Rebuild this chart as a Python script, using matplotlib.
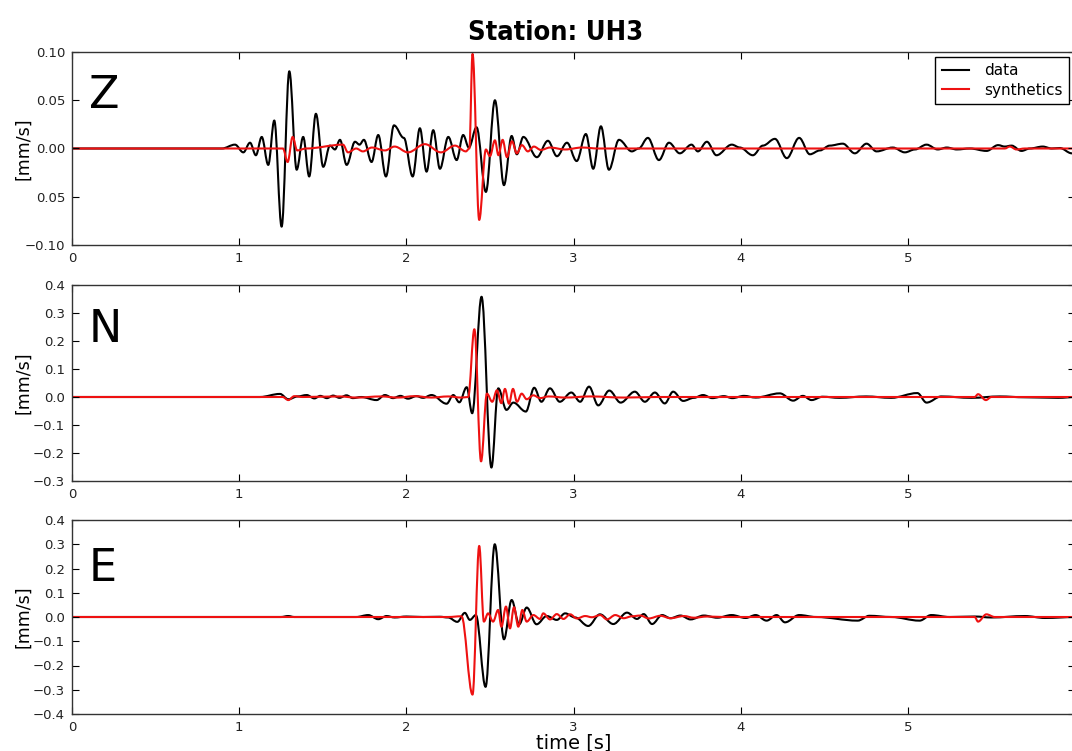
import matplotlib
matplotlib.use("Agg")
import matplotlib.pyplot as plt
from matplotlib import font_manager
from matplotlib.font_manager import FontProperties
from matplotlib.path import Path
from matplotlib.patches import PathPatch
from matplotlib.lines import Line2D

# ---- waveform extrema: time [s], velocity [mm/s] ----
z_data_t = [0.0, 0.897, 0.975, 1.025, 1.065, 1.100, 1.135, 1.174, 1.210, 1.254, 1.300,
            1.344, 1.383, 1.419, 1.459, 1.503, 1.543, 1.573, 1.603, 1.643, 1.693, 1.720,
            1.746, 1.792, 1.832, 1.878, 1.926, 1.985, 2.038, 2.081, 2.121, 2.161, 2.201,
            2.251, 2.301, 2.340, 2.374, 2.420, 2.476, 2.530, 2.584, 2.630, 2.661, 2.700,
            2.781, 2.847, 2.901, 2.961, 3.019, 3.074, 3.118, 3.164, 3.212, 3.272, 3.349,
            3.390, 3.445, 3.511, 3.571, 3.636, 3.706, 3.744, 3.798, 3.855, 3.947, 3.995,
            4.073, 4.133, 4.205, 4.276, 4.350, 4.414, 4.474, 4.533, 4.611, 4.683, 4.753,
            4.813, 4.910, 4.982, 5.042, 5.112, 5.179, 5.233, 5.293, 5.371, 5.471, 5.540,
            5.580, 5.620, 5.680, 5.730, 5.807, 5.861, 5.909, 5.981, 6.005]
z_data_v = [0.0, 0.0, 0.004, -0.004, 0.006, -0.007, 0.012, -0.017, 0.029, -0.081, 0.080,
            -0.022, 0.012, -0.029, 0.036, -0.019, 0.003, -0.001, 0.009, -0.017, 0.007, 0.004,
            0.009, -0.014, 0.014, -0.029, 0.024, 0.011, -0.029, 0.021, -0.024, 0.019, -0.021,
            0.012, -0.012, 0.014, 0.001, 0.022, -0.045, 0.050, -0.038, 0.013, -0.006, 0.012,
            -0.009, 0.008, -0.008, 0.006, -0.013, 0.015, -0.021, 0.023, -0.022, 0.009, -0.003,
            0.0, 0.011, -0.012, 0.006, -0.005, 0.004, -0.003, 0.007, -0.007, 0.004, 0.001,
            -0.007, 0.003, 0.010, -0.010, 0.011, -0.006, -0.002, 0.003, 0.005, -0.005, 0.005,
            -0.003, 0.001, -0.004, -0.001, 0.004, -0.001, 0.001, -0.001, 0.0, -0.0025, 0.0035,
            0.002, 0.003, -0.0025, 0.0, 0.002, 0.0, 0.0005, -0.005, -0.005]

z_syn_t = [0.0, 1.262, 1.290, 1.320, 1.347, 1.400, 1.621, 1.651, 1.700, 1.740, 1.794,
           1.872, 1.930, 2.010, 2.111, 2.207, 2.291, 2.356, 2.377, 2.396, 2.436, 2.476,
           2.500, 2.530, 2.551, 2.576, 2.602, 2.632, 2.661, 2.691, 2.727, 2.763, 2.805,
           2.859, 2.950, 3.050, 3.150, 5.580, 5.610, 5.650, 5.700, 6.005]
z_syn_v = [0.0, 0.0, -0.014, 0.012, -0.002, 0.0, 0.004, -0.004, 0.0, -0.003, 0.001,
           -0.002, 0.002, -0.004, 0.0045, -0.004, 0.003, -0.003, 0.0, 0.098, -0.074, -0.001,
           -0.008, 0.0085, -0.007, 0.009, -0.009, 0.0075, -0.005, 0.0035, -0.003, 0.002, -0.0015,
           0.001, -0.001, 0.001, 0.0, 0.0, 0.002, -0.001, 0.0, 0.0]

n_data_t = [0.0, 1.124, 1.244, 1.294, 1.350, 1.404, 1.450, 1.485, 1.525, 1.562, 1.600,
            1.642, 1.680, 1.730, 1.822, 1.872, 1.920, 1.965, 2.010, 2.060, 2.100, 2.151,
            2.241, 2.281, 2.317, 2.361, 2.394, 2.450, 2.509, 2.550, 2.599, 2.640, 2.715,
            2.765, 2.808, 2.859, 2.918, 2.987, 3.040, 3.093, 3.148, 3.214, 3.282, 3.367,
            3.427, 3.487, 3.546, 3.596, 3.656, 3.720, 3.775, 3.830, 3.900, 3.950, 4.020,
            4.090, 4.234, 4.314, 4.372, 4.424, 4.490, 4.590, 4.750, 4.900, 5.057, 5.112,
            5.200, 5.380, 5.550, 5.700, 5.900, 6.005]
n_data_v = [0.0, 0.0, 0.011, -0.008, 0.002, 0.007, -0.005, 0.004, -0.004, 0.005, -0.003,
            0.006, -0.004, 0.0, -0.011, 0.007, -0.004, 0.004, -0.006, 0.003, -0.003, 0.007,
            -0.024, 0.007, -0.019, 0.035, -0.058, 0.358, -0.252, 0.031, -0.046, -0.020, -0.052,
            0.033, -0.017, 0.031, -0.017, 0.016, -0.017, 0.037, -0.030, 0.023, -0.020, 0.019,
            -0.017, 0.016, -0.023, 0.019, -0.014, -0.003, 0.007, -0.004, 0.003, -0.004, 0.004,
            -0.002, 0.013, -0.013, 0.004, -0.011, 0.001, -0.003, 0.002, -0.003, 0.014, -0.020,
            0.002, -0.003, 0.002, -0.001, -0.003, 0.0]

n_syn_t = [0.0, 1.260, 1.294, 1.330, 1.380, 1.600, 1.700, 1.850, 1.950, 2.050, 2.150,
           2.250, 2.330, 2.370, 2.407, 2.447, 2.482, 2.514, 2.542, 2.568, 2.590, 2.614,
           2.638, 2.662, 2.690, 2.720, 2.760, 2.800, 2.850, 2.950, 3.100, 3.300, 3.500,
           5.400, 5.420, 5.467, 5.500, 6.005]
n_syn_v = [0.0, 0.0, -0.011, 0.003, 0.0, 0.002, -0.002, 0.002, -0.002, 0.003, -0.002,
           0.002, -0.002, 0.0, 0.242, -0.230, 0.012, -0.017, 0.024, -0.022, 0.029, -0.024,
           0.029, -0.017, 0.012, -0.008, 0.006, -0.004, 0.002, -0.002, 0.002, -0.002, 0.0,
           0.0, 0.010, -0.011, 0.0, 0.0]

e_data_t = [0.0, 1.250, 1.293, 1.330, 1.700, 1.772, 1.832, 1.882, 1.930, 2.000, 2.100,
            2.200, 2.250, 2.305, 2.350, 2.380, 2.416, 2.474, 2.529, 2.584, 2.630, 2.675,
            2.720, 2.779, 2.840, 2.900, 2.950, 3.010, 3.088, 3.158, 3.238, 3.320, 3.380,
            3.420, 3.470, 3.530, 3.580, 3.640, 3.700, 3.780, 3.860, 3.946, 4.030, 4.090,
            4.155, 4.215, 4.265, 4.350, 4.450, 4.700, 4.770, 4.900, 5.070, 5.140, 5.250,
            5.400, 5.500, 5.700, 5.820, 6.005]
e_data_v = [0.0, 0.0, 0.004, 0.0, 0.0, 0.008, -0.009, 0.004, -0.002, 0.002, 0.0,
            0.001, -0.002, -0.020, 0.017, -0.012, 0.008, -0.288, 0.300, -0.092, 0.070, -0.030,
            0.039, -0.030, 0.004, -0.012, 0.015, -0.002, -0.037, 0.011, -0.029, 0.018, -0.008,
            0.012, -0.029, 0.008, -0.005, 0.006, -0.010, 0.006, -0.003, 0.008, -0.004, 0.008,
            -0.015, 0.008, -0.022, 0.008, 0.0, -0.015, 0.005, 0.0, -0.015, 0.008, 0.0,
            0.002, -0.002, 0.004, -0.004, 0.0]

e_syn_t = [0.0, 2.250, 2.330, 2.396, 2.436, 2.464, 2.489, 2.519, 2.549, 2.569, 2.596,
           2.620, 2.644, 2.670, 2.694, 2.720, 2.760, 2.800, 2.819, 2.860, 2.900, 2.940,
           2.980, 3.020, 3.070, 3.110, 3.160, 3.200, 3.250, 3.300, 3.350, 3.400, 3.450,
           3.520, 3.580, 3.660, 3.720, 3.800, 3.900, 5.400, 5.420, 5.470, 5.520, 6.005]
e_syn_v = [0.0, 0.0, 0.003, -0.320, 0.293, -0.019, 0.015, -0.019, 0.029, -0.040, 0.043,
           -0.047, 0.040, -0.040, 0.029, -0.019, 0.008, -0.008, 0.015, -0.010, 0.012, -0.008,
           0.011, -0.006, 0.004, -0.001, 0.008, -0.010, 0.008, -0.005, 0.003, 0.006, -0.006,
           0.005, -0.005, 0.004, -0.003, 0.002, 0.0, 0.0, -0.019, 0.011, 0.0, 0.0]

components = ["Z", "N", "E"]
z_ticks = [-0.10, -0.05, 0.0, 0.05, 0.10]
z_tick_labels = ["\u22120.10", "0.05", "0.00", "0.05", "0.10"]
n_ticks = [-0.3, -0.2, -0.1, 0.0, 0.1, 0.2, 0.3, 0.4]
e_ticks = [-0.4, -0.3, -0.2, -0.1, 0.0, 0.1, 0.2, 0.3, 0.4]
x_ticks = [0, 1, 2, 3, 4, 5]
station = "UH3"


def smooth_path(t, v, k=0.36):
    """Smooth Bezier path through successive extrema (horizontal tangents)."""
    verts = [(t[0], v[0])]
    codes = [Path.MOVETO]
    for i in range(len(t) - 1):
        dt = t[i + 1] - t[i]
        verts += [(t[i] + k * dt, v[i]), (t[i + 1] - k * dt, v[i + 1]), (t[i + 1], v[i + 1])]
        codes += [Path.CURVE4] * 3
    return Path(verts, codes)


def title_font(size):
    """Prefer a condensed bold face for the title, if one is installed."""
    wanted = ["dejavusanscondensed-bold", "liberationsansnarrow-bold"]
    files = font_manager.findSystemFonts()
    for key in wanted:
        for f in files:
            base = f.replace("\\", "/").split("/")[-1].lower().replace(" ", "")
            if base.startswith(key) and base.endswith(".ttf") and "oblique" not in base \
                    and "italic" not in base:
                return FontProperties(fname=f, size=size)
    return FontProperties(family="DejaVu Sans", weight="bold", stretch="condensed",
                          size=size)


W, H = 1072, 751
fig = plt.figure(figsize=(W / 100, H / 100), dpi=100)
plt.rcParams["font.family"] = "DejaVu Sans"

left = 72 / W
width = 1003 / W
# (top px, bottom px) of each panel
panel_px = [(52, 245), (285, 481), (520, 714)]

traces = [
    (z_data_t, z_data_v, z_syn_t, z_syn_v, (-0.10, 0.10), z_ticks, z_tick_labels, 0.710),
    (n_data_t, n_data_v, n_syn_t, n_syn_v, (-0.3, 0.4), n_ticks, None, 0.711),
    (e_data_t, e_data_v, e_syn_t, e_syn_v, (-0.4, 0.4), e_ticks, None, 0.686),
]

axes = []
for (top, bot), comp, tr in zip(panel_px, components, traces):
    dt, dv, st, sv, ylim, yt, ytl, lab_y = tr
    ax = fig.add_axes([left, 1 - bot / H, width, (bot - top) / H])
    ax.add_patch(PathPatch(smooth_path(dt, dv), facecolor="none", edgecolor="black",
                           lw=1.5, joinstyle="round"))
    ax.add_patch(PathPatch(smooth_path(st, sv), facecolor="none", edgecolor="#ee1111",
                           lw=1.5, joinstyle="round"))
    ax.set_xlim(0, 6)
    ax.set_ylim(*ylim)
    ax.set_xticks(x_ticks)
    ax.set_yticks(yt)
    if ytl is not None:
        ax.set_yticklabels(ytl)
    else:
        ax.set_yticklabels([f"{v:.1f}".replace("-", "\u2212") for v in yt])
    ax.tick_params(direction="in", top=True, right=True, length=5, width=0.8,
                   labelsize=9.5, labelcolor="#222222", pad=5)
    for s in ax.spines.values():
        s.set_linewidth(1.0)
        s.set_color("#333333")
    ax.set_ylabel("[mm/s]", fontsize=12.5)
    ax.yaxis.set_label_coords(-40 / 1003, 0.5)
    ax.text(0.017, lab_y, comp, transform=ax.transAxes, fontsize=32,
            ha="left", va="baseline", color="black")
    axes.append(ax)

handles = [Line2D([], [], color="black", lw=1.5), Line2D([], [], color="#ee1111", lw=1.5)]
leg = axes[0].legend(handles, ["data", "synthetics"], loc="upper right",
                     bbox_to_anchor=(0.994, 0.974), borderaxespad=0, fontsize=11,
                     fancybox=False, framealpha=1, edgecolor="black",
                     handlelength=1.8, labelspacing=0.3, handletextpad=1.0)
leg.get_frame().set_linewidth(1.0)

axes[2].set_xlabel("time [s]", fontsize=14, labelpad=0)

fig.text(555.5 / W, 1 - 40 / H, f"Station: {station}", ha="center", va="baseline",
         fontproperties=title_font(19.5))

fig.savefig("out.png", dpi=100)
